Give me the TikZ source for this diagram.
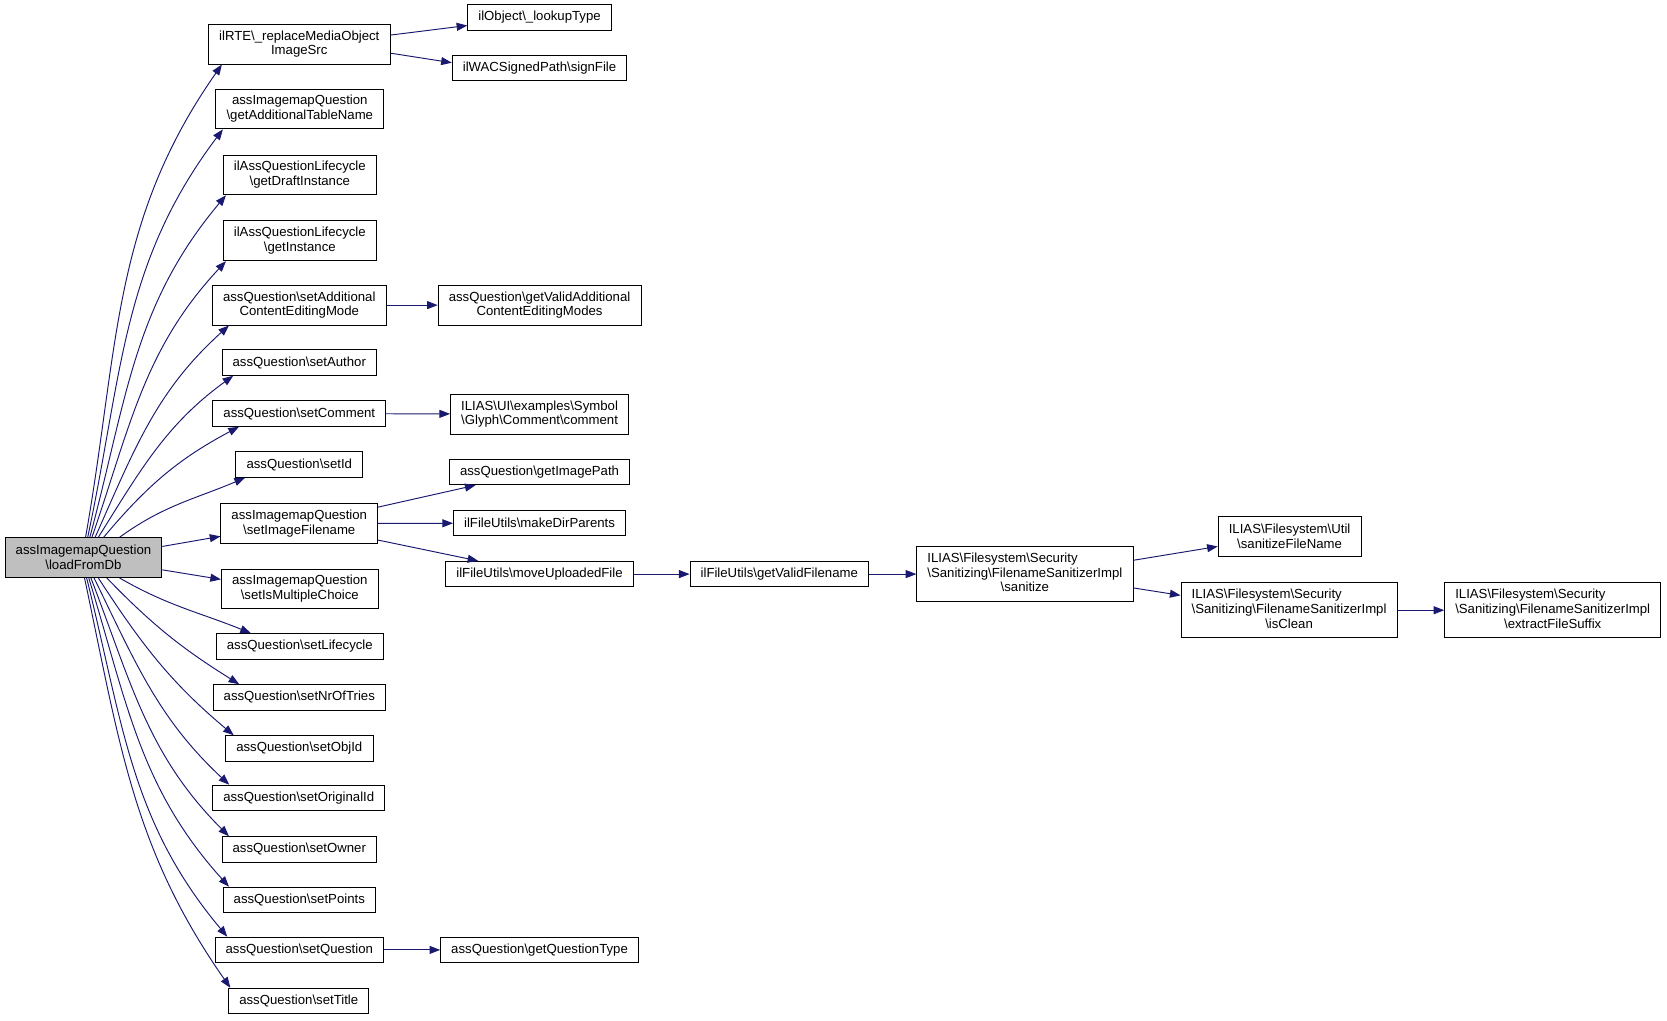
\documentclass[tikz,border=0pt]{standalone}
\usepackage{fontspec}
\setmainfont{Liberation Sans}
\usetikzlibrary{arrows.meta}
\definecolor{edgeblue}{RGB}{25,25,112}
\newcommand{\bs}{\textbackslash}
\newcommand{\lthree}[3]{\begin{tabular}{@{}l@{}}#1\\#2\\\multicolumn{1}{@{}c@{}}{#3}\end{tabular}}

\begin{document}
\begin{tikzpicture}[x=1pt,y=1pt,>={Triangle[length=10pt,width=7.5pt]},
  fn/.style={draw=black,line width=0.8pt,fill=white,font=\fontsize{12.4}{14}\selectfont,
    align=center,inner xsep=10pt,inner ysep=3pt,minimum height=24pt},
  two/.style={minimum height=37.5pt},
  three/.style={minimum height=52pt},
  call/.style={->,draw=edgeblue,line width=0.9pt}]
  \useasboundingbox (0,0) rectangle (1568,-960);
  % root function
  \node[fn,two,fill=gray!50] (root) at (78.5,-524.5) {assImagemapQuestion\\\bs loadFromDb};
  % first column
  \node[fn,two] (rte) at (281.5,-41.5) {ilRTE\bs\_replaceMediaObject\\ImageSrc};
  \node[fn,two] (tablename) at (282,-102.5) {assImagemapQuestion\\\bs getAdditionalTableName};
  \node[fn,two] (draftinst) at (282,-164.5) {ilAssQuestionLifecycle\\\bs getDraftInstance};
  \node[fn,two] (instance) at (282,-226.5) {ilAssQuestionLifecycle\\\bs getInstance};
  \node[fn,two] (setmode) at (281.5,-287) {assQuestion\bs setAdditional\\ContentEditingMode};
  \node[fn] (author) at (281.5,-341) {assQuestion\bs setAuthor};
  \node[fn] (comment) at (281.5,-389) {assQuestion\bs setComment};
  \node[fn] (setid) at (281.5,-437) {assQuestion\bs setId};
  \node[fn,two] (imagefile) at (281.5,-492.5) {assImagemapQuestion\\\bs setImageFilename};
  \node[fn,two] (multichoice) at (282,-554) {assImagemapQuestion\\\bs setIsMultipleChoice};
  \node[fn] (lifecycle) at (282,-608) {assQuestion\bs setLifecycle};
  \node[fn] (nroftries) at (281.5,-656) {assQuestion\bs setNrOfTries};
  \node[fn] (objid) at (281.5,-704) {assQuestion\bs setObjId};
  \node[fn] (origid) at (281,-750.5) {assQuestion\bs setOriginalId};
  \node[fn] (owner) at (281.5,-799) {assQuestion\bs setOwner};
  \node[fn] (points) at (281.5,-846.5) {assQuestion\bs setPoints};
  \node[fn] (question) at (281.5,-893.5) {assQuestion\bs setQuestion};
  \node[fn] (title) at (281,-941.5) {assQuestion\bs setTitle};
  % second column
  \node[fn] (lookup) at (507.5,-16.5) {ilObject\bs\_lookupType};
  \node[fn] (signfile) at (507.5,-64) {ilWACSignedPath\bs signFile};
  \node[fn,two] (validmodes) at (507.5,-287) {assQuestion\bs getValidAdditional\\ContentEditingModes};
  \node[fn,two] (glyph) at (507.5,-389.5) {ILIAS\bs UI\bs examples\bs Symbol\\\bs Glyph\bs Comment\bs comment};
  \node[fn] (imagepath) at (507.5,-444) {assQuestion\bs getImagePath};
  \node[fn] (makedir) at (507.5,-492) {ilFileUtils\bs makeDirParents};
  \node[fn] (moveup) at (507.5,-540) {ilFileUtils\bs moveUploadedFile};
  \node[fn] (qtype) at (507.5,-893.5) {assQuestion\bs getQuestionType};
  % further columns
  \node[fn] (validname) at (733,-540) {ilFileUtils\bs getValidFilename};
  \node[fn,three] (sanitize) at (964,-540) {\lthree{ILIAS\bs Filesystem\bs Security}{\bs Sanitizing\bs FilenameSanitizerImpl}{\bs sanitize}};
  \node[fn,two] (sanitizename) at (1213,-504.5) {ILIAS\bs Filesystem\bs Util\\\bs sanitizeFileName};
  \node[fn,three] (isclean) at (1212.5,-574) {\lthree{ILIAS\bs Filesystem\bs Security}{\bs Sanitizing\bs FilenameSanitizerImpl}{\bs isClean}};
  \node[fn,three] (suffix) at (1460.5,-574) {\lthree{ILIAS\bs Filesystem\bs Security}{\bs Sanitizing\bs FilenameSanitizerImpl}{\bs extractFileSuffix}};
  % fan out of the root
  \foreach \t/\d/\o/\e/\i in {rte/2/80/13/235, tablename/4/78/7/233, draftinst/6/75/3/230,
      instance/8/71/3/227, setmode/11/66/16/222, author/14/58/11/216, comment/19/50/25/208, setid/34/36/9/203}
    \draw[call] ([xshift=\d]root.north) to[out=\o,in=\i] ([xshift=\e]\t.south west);
  \foreach \t/\d/\o/\e/\i in {lifecycle/34/-30/33/158, nroftries/22/-46/25/148, objid/14/-57/8/140,
      origid/10/-64/16/137, owner/7/-69/7/135, points/5/-73/6/132, question/3/-76/12/130, title/1/-78/2/125}
    \draw[call] ([xshift=\d]root.south) to[out=\o,in=\i] ([xshift=\e]\t.north west);
  \draw[call] ([yshift=10.5]root.east) -- ([yshift=-12]imagefile.west);
  \draw[call] ([yshift=-11.5]root.east) -- ([yshift=9]multichoice.west);
  % straight calls
  \draw[call] ([yshift=8.5]rte.east) -- ([yshift=-7.5]lookup.west);
  \draw[call] ([yshift=-8.5]rte.east) -- ([yshift=5]signfile.west);
  \draw[call] (setmode) -- (validmodes);
  \draw[call] (comment) -- (glyph);
  \draw[call] ([yshift=15.5]imagefile.east) -- ([xshift=25]imagepath.south west);
  \draw[call] (imagefile) -- (makedir);
  \draw[call] ([yshift=-15.5]imagefile.east) -- ([xshift=31]moveup.north west);
  \draw[call] (moveup) -- (validname);
  \draw[call] (validname) -- (sanitize);
  \draw[call] ([yshift=13]sanitize.east) -- ([yshift=-9.5]sanitizename.west);
  \draw[call] ([yshift=-13]sanitize.east) -- ([yshift=14]isclean.west);
  \draw[call] (isclean) -- (suffix);
  \draw[call] (question) -- (qtype);
\end{tikzpicture}
\end{document}
